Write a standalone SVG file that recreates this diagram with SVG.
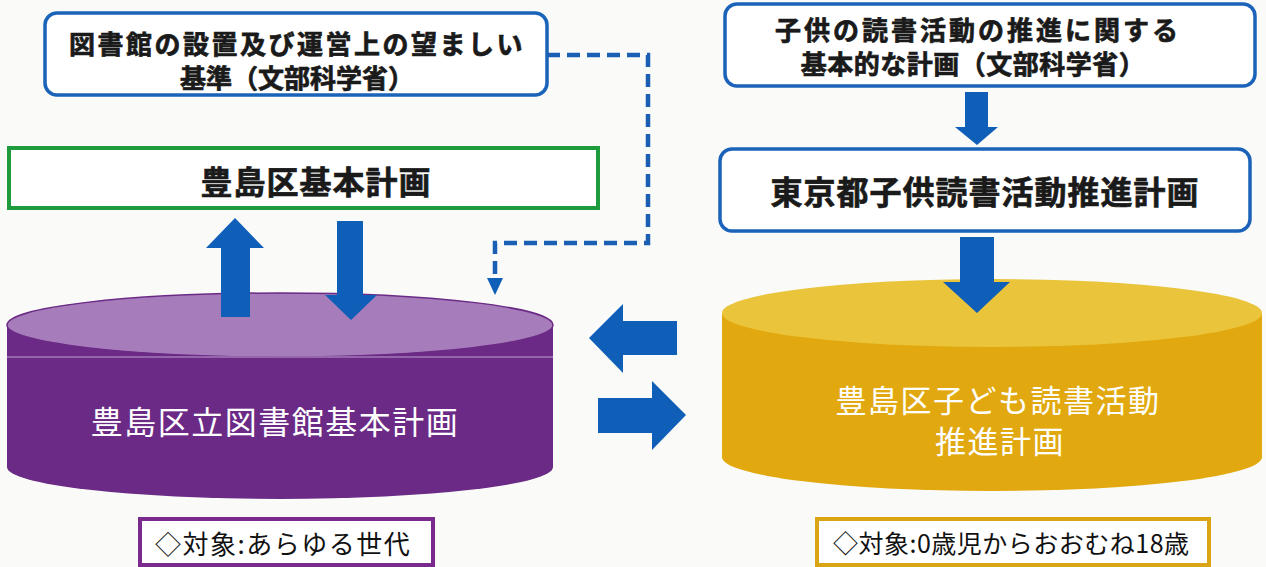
<svg xmlns="http://www.w3.org/2000/svg" width="1266" height="567" viewBox="0 0 1266 567">
<style>
.bx{fill:#fff;stroke:#1a63b8;stroke-width:3.5}
.bold{font-family:"Noto Sans CJK JP","Noto Sans",sans-serif;font-weight:700;fill:#1a1a1a;stroke:#1a1a1a;stroke-width:0.7;text-anchor:middle;dominant-baseline:central}
.wt{font-family:"Noto Sans CJK JP","Noto Sans",sans-serif;font-weight:400;fill:#fff;text-anchor:middle;dominant-baseline:central}
.lb{font-family:"Noto Sans CJK JP","Noto Sans",sans-serif;font-weight:400;fill:#111;dominant-baseline:central}
.ar{fill:#0f5fb8}
</style>
<rect width="1266" height="567" fill="#fafaf8"/>
<g id="node-purple-cylinder">
<path d="M7,325 V467 A273,32 0 0 0 553,467 V325 Z" fill="#6b2a86"/>
<ellipse cx="280" cy="325" rx="273" ry="32" fill="#a67cba" stroke="#6b2a86" stroke-width="1.5"/>
<line x1="7" y1="357" x2="553" y2="357" stroke="#a27ab6" stroke-width="1.5"/>
<text class="wt" x="275" y="420" font-size="32" letter-spacing="1.5">豊島区立図書館基本計画</text>
</g>
<g id="node-yellow-cylinder">
<path d="M722,313 V457 A270,34 0 0 0 1262,457 V313 Z" fill="#e1a90f"/>
<ellipse cx="992" cy="313" rx="270" ry="34" fill="#eac53c"/>
<text class="wt" x="998" y="398" font-size="31" letter-spacing="1.5">豊島区子ども読書活動</text>
<text class="wt" x="1000" y="439" font-size="31" letter-spacing="1.5">推進計画</text>
</g>
<g id="node-standard">
<rect class="bx" x="45" y="13" width="502" height="82" rx="12"/>
<text class="bold" x="297" y="42" font-size="26" letter-spacing="2.5">図書館の設置及び運営上の望ましい</text>
<text class="bold" x="297" y="76" font-size="26" letter-spacing="0">基準（文部科学省）</text>
</g>
<g id="node-basic-plan">
<rect x="9" y="148" width="589" height="60" fill="#fff" stroke="#1e9b3c" stroke-width="4"/>
<text class="bold" x="316" y="180" font-size="32" letter-spacing="1">豊島区基本計画</text>
</g>
<g id="node-kids-plan-national">
<rect class="bx" x="725" y="4" width="530" height="82" rx="12"/>
<text class="bold" x="978" y="28" font-size="26" letter-spacing="3">子供の読書活動の推進に関する</text>
<text class="bold" x="973" y="62" font-size="26" letter-spacing="0.5">基本的な計画（文部科学省）</text>
</g>
<g id="node-tokyo-plan">
<rect class="bx" x="720" y="149" width="530" height="82" rx="12"/>
<text class="bold" x="985" y="190" font-size="32" letter-spacing="1">東京都子供読書活動推進計画</text>
</g>
<g id="node-target-all">
<rect x="140" y="519" width="293" height="46" fill="#fff" stroke="#7a2a8c" stroke-width="4"/>
<text class="lb" x="155" y="542" font-size="26" letter-spacing="1.5">◇対象:あらゆる世代</text>
</g>
<g id="node-target-kids">
<rect x="817" y="519" width="392" height="46" fill="#fff" stroke="#d9a514" stroke-width="4"/>
<text class="lb" x="833" y="542" font-size="25" letter-spacing="0.5">◇対象:0歳児からおおむね18歳</text>
</g>
<g id="connectors">
<path d="M547,55 H648 V243 H495 V280" fill="none" stroke="#1a5fb4" stroke-width="4.5" stroke-dasharray="13 7"/>
<polygon class="ar" points="487,278 503,278 495,295"/>
<polygon class="ar" points="235,218 264,248 250,248 250,317 221,317 221,248 206,248"/>
<polygon class="ar" points="337,221 363,221 363,295 377,295 351,320 325,295 337,295"/>
<polygon class="ar" points="589,338 623,304 623,321 677,321 677,355 623,355 623,373"/>
<polygon class="ar" points="598,398 652,398 652,381 686,415 652,450 652,433 598,433"/>
<polygon class="ar" points="965,92 988,92 988,127 998,127 977,145 955,127 965,127"/>
<polygon class="ar" points="960,237 994,237 994,282 1010,282 977,313 943,282 960,282"/>
</g>
</svg>
